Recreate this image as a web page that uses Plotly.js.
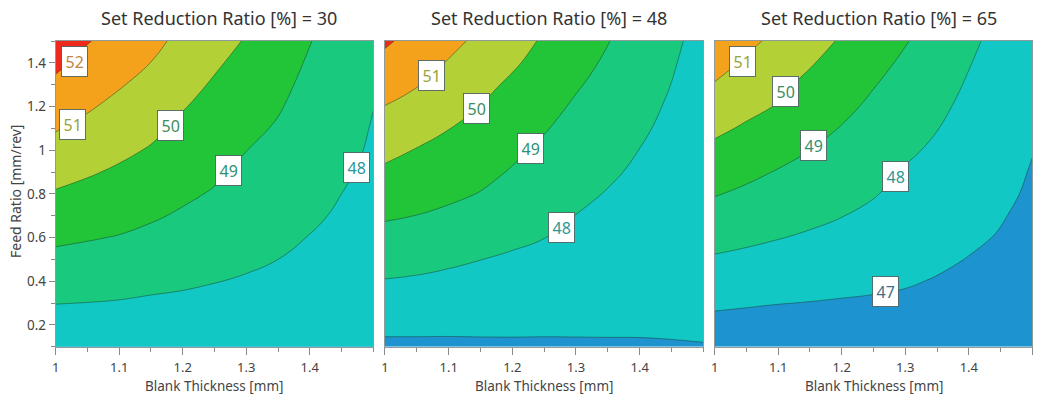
<!DOCTYPE html>
<html>
<head>
<meta charset="utf-8">
<script src="https://cdn.plot.ly/plotly-3.0.1.min.js"></script>
<style>html,body{margin:0;padding:0;background:#fff;}#chart{width:1041px;height:395px;}</style>
</head>
<body>
<div id="chart"></div>
<script>
// Blank thickness grid [mm] (x) and feed ratio grid [mm/rev] (y)
const thickness = [1.00, 1.05, 1.10, 1.15, 1.20, 1.25, 1.30, 1.35, 1.40, 1.45, 1.50];
const feedRatio = [0.1, 0.2, 0.3, 0.4, 0.5, 0.6, 0.7, 0.8, 0.9, 1.0, 1.1, 1.2, 1.3, 1.4, 1.5];
const reductionRatios = [30, 48, 65];

// Response values estimated from the plot (rows = feed ratio, columns = thickness)
const z30 = [
  [47.26,47.28,47.28,47.28,47.32,47.35,47.40,47.40,47.42,47.45,47.52],
  [47.64,47.63,47.62,47.58,47.58,47.57,47.58,47.54,47.52,47.52,47.57],
  [48.02,47.99,47.95,47.89,47.85,47.80,47.76,47.69,47.63,47.60,47.61],
  [48.40,48.35,48.29,48.19,48.11,48.02,47.94,47.84,47.75,47.68,47.66],
  [48.78,48.71,48.63,48.50,48.37,48.25,48.11,48.00,47.87,47.76,47.70],
  [49.16,49.06,48.96,48.80,48.64,48.47,48.29,48.15,47.98,47.84,47.74],
  [49.54,49.41,49.27,49.10,48.90,48.70,48.47,48.30,48.10,47.92,47.79],
  [49.92,49.75,49.57,49.37,49.14,48.93,48.65,48.46,48.22,48.00,47.83],
  [50.30,50.09,49.88,49.65,49.37,49.13,48.83,48.61,48.33,48.08,47.88],
  [50.68,50.43,50.18,49.93,49.60,49.33,49.01,48.76,48.45,48.17,47.92],
  [51.06,50.77,50.48,50.19,49.82,49.52,49.20,48.92,48.56,48.25,47.96],
  [51.44,51.10,50.77,50.46,50.05,49.72,49.38,49.07,48.68,48.33,48.01],
  [51.82,51.41,51.07,50.72,50.27,49.91,49.57,49.20,48.80,48.41,48.05],
  [52.20,51.73,51.37,50.99,50.50,50.11,49.75,49.34,48.91,48.50,48.10],
  [52.58,52.05,51.67,51.25,50.76,50.33,49.94,49.48,49.03,48.58,48.14]
];
const z48 = [
  [46.83,46.84,46.85,46.87,46.89,46.90,46.92,46.94,46.95,46.97,46.99],
  [47.20,47.19,47.17,47.16,47.14,47.12,47.10,47.08,47.07,47.06,47.04],
  [47.58,47.55,47.49,47.44,47.39,47.35,47.28,47.23,47.18,47.14,47.09],
  [47.96,47.90,47.81,47.72,47.64,47.57,47.46,47.38,47.30,47.22,47.15],
  [48.34,48.26,48.14,48.01,47.89,47.79,47.64,47.52,47.41,47.31,47.20],
  [48.72,48.63,48.49,48.33,48.16,48.01,47.82,47.67,47.53,47.39,47.25],
  [49.10,48.99,48.84,48.65,48.44,48.22,47.99,47.82,47.65,47.48,47.30],
  [49.48,49.31,49.16,48.97,48.72,48.43,48.17,47.96,47.76,47.56,47.36],
  [49.85,49.64,49.44,49.21,48.94,48.64,48.35,48.11,47.88,47.65,47.41],
  [50.23,49.96,49.73,49.44,49.15,48.85,48.53,48.27,47.99,47.73,47.46],
  [50.61,50.33,50.02,49.68,49.38,49.06,48.71,48.42,48.11,47.82,47.52],
  [50.98,50.69,50.33,49.98,49.62,49.27,48.89,48.57,48.23,47.90,47.57],
  [51.37,51.05,50.63,50.24,49.85,49.48,49.08,48.73,48.35,47.99,47.62],
  [51.75,51.37,50.94,50.52,50.12,49.69,49.27,48.88,48.47,48.07,47.68],
  [52.13,51.68,51.25,50.80,50.33,49.90,49.46,49.03,48.59,48.16,47.73]
];
const z65 = [
  [46.37,46.35,46.34,46.37,46.40,46.44,46.50,46.51,46.52,46.53,46.52],
  [46.76,46.71,46.68,46.68,46.67,46.68,46.70,46.66,46.63,46.61,46.57],
  [47.14,47.08,47.02,46.98,46.94,46.91,46.88,46.81,46.75,46.70,46.63],
  [47.53,47.44,47.36,47.29,47.21,47.14,47.06,46.96,46.87,46.79,46.68],
  [47.91,47.81,47.70,47.59,47.48,47.37,47.23,47.11,46.98,46.87,46.74],
  [48.29,48.16,48.03,47.90,47.75,47.60,47.41,47.27,47.10,46.96,46.80],
  [48.67,48.50,48.34,48.18,48.02,47.83,47.59,47.42,47.22,47.04,46.85],
  [49.05,48.85,48.64,48.44,48.26,48.05,47.77,47.57,47.34,47.13,46.91],
  [49.42,49.19,48.95,48.71,48.49,48.25,47.94,47.72,47.45,47.21,46.96],
  [49.80,49.54,49.28,49.00,48.73,48.45,48.13,47.87,47.57,47.30,47.02],
  [50.18,49.89,49.61,49.28,48.96,48.64,48.31,48.02,47.69,47.39,47.08],
  [50.56,50.23,49.95,49.56,49.20,48.84,48.49,48.17,47.80,47.47,47.13],
  [50.95,50.55,50.18,49.80,49.44,49.04,48.68,48.32,47.92,47.56,47.19],
  [51.33,50.88,50.45,50.07,49.67,49.25,48.86,48.47,48.04,47.64,47.24],
  [51.68,51.21,50.78,50.35,49.91,49.46,49.05,48.62,48.17,47.73,47.30]
];
const zGrids = [z30, z48, z65];

// Contour label values for each panel
const labels30 = [52, 51, 50, 49, 48];
const labels48 = [51, 50, 49, 48];
const labels65 = [51, 50, 49, 48, 47];

const bandColors = ['#1d93cf', '#12c8c4', '#19ca7e', '#21c537', '#b3d136', '#f4a11b', '#ee2a1c'];
const labelColors = {52:'#c4843e', 51:'#98a43a', 50:'#3c8d5c', 49:'#2e9170', 48:'#2a9896', 47:'#3f6f8c'};

const stepScale = [];
bandColors.forEach((c, i) => {
  stepScale.push([i / bandColors.length, c]);
  stepScale.push([(i + 1) / bandColors.length, c]);
});

const FONT = 'Noto Sans, Open Sans, sans-serif';

const traces = zGrids.map((z, k) => ({
  type: 'contour',
  x: thickness,
  y: feedRatio,
  z: z,
  xaxis: k === 0 ? 'x' : 'x' + (k + 1),
  yaxis: k === 0 ? 'y' : 'y' + (k + 1),
  autocontour: false,
  contours: {start: 47, end: 52, size: 1, coloring: 'fill', showlines: true},
  zauto: false, zmin: 46, zmax: 53,
  colorscale: stepScale,
  showscale: false,
  line: {color: 'rgba(25,60,45,0.6)', width: 0.8, smoothing: 1.3},
  hoverinfo: 'skip'
}));

const domainsX = [[0.0535, 0.3586], [0.3698, 0.6756], [0.6865, 0.9917]];
const domainY = [0.1223, 0.8962];

const layout = {
  width: 1041, height: 395,
  margin: {l: 0, r: 0, t: 0, b: 0},
  paper_bgcolor: '#ffffff',
  plot_bgcolor: '#ffffff',
  showlegend: false,
  font: {family: FONT, color: '#444', size: 13},
  annotations: []
};

for (let k = 0; k < 3; k++) {
  const s = k === 0 ? '' : String(k + 1);
  layout['xaxis' + s] = {
    domain: domainsX[k], range: [1, 1.5], anchor: 'y' + s,
    tickvals: k === 2 ? [1, 1.1, 1.2, 1.3, 1.4, 1.5] : [1, 1.1, 1.2, 1.3, 1.4],
    ticks: 'outside', ticklen: 7, tickcolor: '#8a8a8a', tickwidth: 1,
    minor: {dtick: 0.05, tick0: 1, ticks: 'outside', ticklen: 4, tickcolor: '#8a8a8a'},
    showline: true, mirror: true, linecolor: '#8f9a9a', linewidth: 1,
    showgrid: false, zeroline: false, automargin: false,
    ticklabelstandoff: 2,
    tickfont: {family: FONT, size: 13, color: '#444'}
  };
  layout['yaxis' + s] = {
    domain: domainY, range: [0.1, 1.5], anchor: 'x' + s,
    tickvals: k === 0 ? [0.2, 0.4, 0.6, 0.8, 1, 1.2, 1.4] : [],
    showticklabels: k === 0,
    ticks: k === 0 ? 'outside' : '', ticklen: 6, tickcolor: '#8a8a8a',
    minor: k === 0 ? {dtick: 0.1, tick0: 0.1, ticks: 'outside', ticklen: 4, tickcolor: '#8a8a8a'} : {},
    showline: true, mirror: true, linecolor: '#8f9a9a', linewidth: 1,
    showgrid: false, zeroline: false, automargin: false,
    ticklabelstandoff: 0,
    tickfont: {family: FONT, size: 13.5, color: '#444'}
  };
  // panel titles
  layout.annotations.push({
    xref: 'paper', yref: 'paper',
    x: (domainsX[k][0] + domainsX[k][1]) / 2 + 5 / 1041, y: 1 - 18 / 395,
    xanchor: 'center', yanchor: 'middle', showarrow: false,
    text: 'Set Reduction Ratio [%] = ' + reductionRatios[k],
    font: {family: FONT, size: 18, color: '#333'}
  });
  // x axis titles
  layout.annotations.push({
    xref: 'paper', yref: 'paper',
    x: (domainsX[k][0] + domainsX[k][1]) / 2, y: 1 - 386 / 395,
    xanchor: 'center', yanchor: 'middle', showarrow: false,
    text: 'Blank Thickness [mm]',
    font: {family: FONT, size: 13.5, color: '#444'}
  });
}
layout.annotations.push({
  xref: 'paper', yref: 'paper', x: 16 / 1041, y: 1 - 192 / 395,
  xanchor: 'center', yanchor: 'middle', showarrow: false, textangle: -90,
  text: 'Feed Ratio [mm/rev]', font: {family: FONT, size: 14, color: '#444'}
});

// boxed contour value labels, placed along their contour lines
const labelPlaces = [
  {vals: labels30, at: [[1.030, 1.405], [1.027, 1.118], [1.180, 1.115], [1.272, 0.909], [1.474, 0.920]]},
  {vals: labels48, at: [[1.073, 1.344], [1.144, 1.189], [1.228, 1.008], [1.277, 0.645]]},
  {vals: labels65, at: [[1.044, 1.405], [1.112, 1.268], [1.156, 1.021], [1.284, 0.879], [1.269, 0.355]]}
];
labelPlaces.forEach((p, k) => {
  const s = k === 0 ? '' : String(k + 1);
  p.vals.forEach((v, i) => {
    layout.annotations.push({
      xref: 'x' + s, yref: 'y' + s, x: p.at[i][0], y: p.at[i][1],
      text: String(v), showarrow: false,
      bgcolor: '#ffffff', bordercolor: 'rgba(70,90,90,0.85)', borderwidth: 1, borderpad: 3.5,
      font: {family: FONT, size: 16, color: labelColors[v]}
    });
  });
});

Plotly.newPlot('chart', traces, layout, {staticPlot: true, displayModeBar: false});
</script>
</body>
</html>
